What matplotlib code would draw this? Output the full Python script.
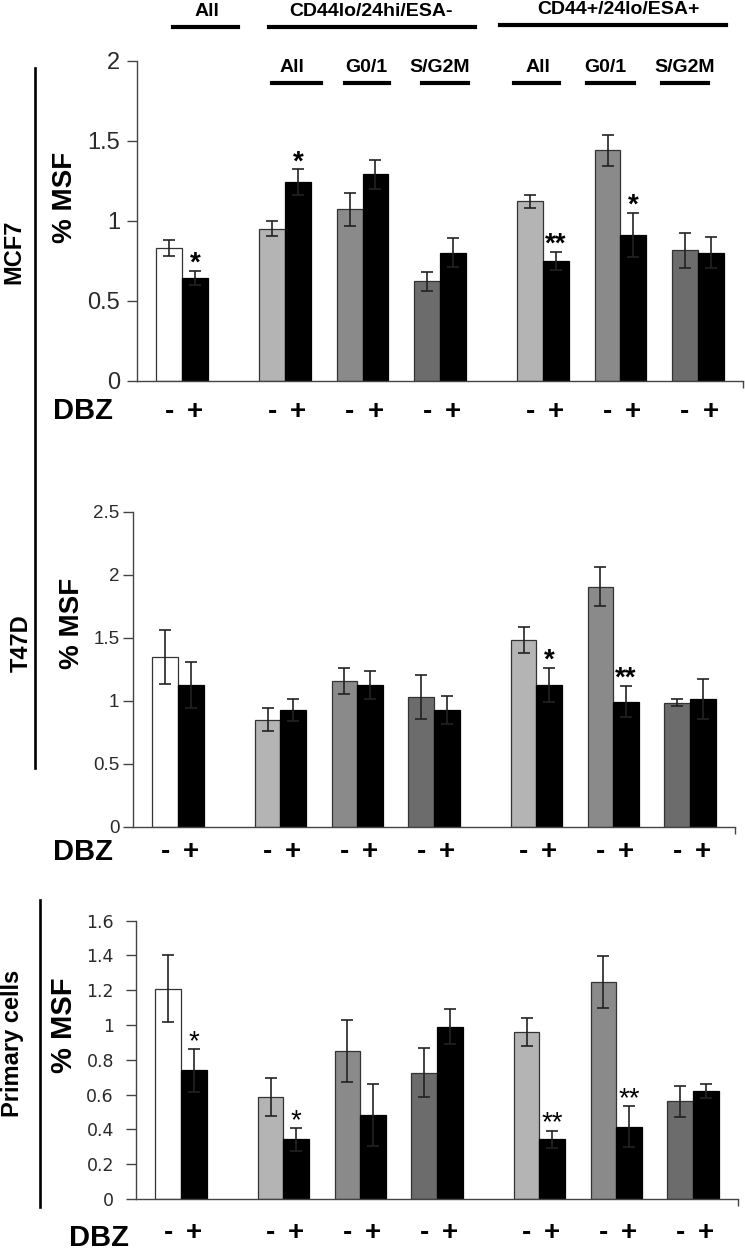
import matplotlib
matplotlib.use("Agg")
import matplotlib.pyplot as plt
from matplotlib.lines import Line2D
import matplotlib.transforms as mtransforms

plt.rcParams['font.family'] = ['Liberation Sans', 'DejaVu Sans']

# ---------------- data ----------------
subsets = ["All",
           "CD44lo/24hi/ESA- All", "CD44lo/24hi/ESA- G0/1", "CD44lo/24hi/ESA- S/G2M",
           "CD44+/24lo/ESA+ All", "CD44+/24lo/ESA+ G0/1", "CD44+/24lo/ESA+ S/G2M"]
dbz_labels = ["-", "+"]

mcf7_minus = [0.83, 0.95, 1.07, 0.62, 1.12, 1.44, 0.815]
mcf7_minus_err = [0.05, 0.045, 0.105, 0.058, 0.042, 0.098, 0.11]
mcf7_plus = [0.64, 1.24, 1.29, 0.80, 0.75, 0.91, 0.80]
mcf7_plus_err = [0.045, 0.08, 0.09, 0.09, 0.056, 0.14, 0.095]
mcf7_stars = ['*', '*', '', '', '**', '*', '']

t47d_minus = [1.35, 0.85, 1.16, 1.03, 1.48, 1.905, 0.985]
t47d_minus_err = [0.215, 0.09, 0.103, 0.172, 0.103, 0.156, 0.03]
t47d_plus = [1.125, 0.926, 1.125, 0.926, 1.125, 0.992, 1.011]
t47d_plus_err = [0.18, 0.087, 0.113, 0.11, 0.137, 0.125, 0.16]
t47d_stars = ['', '', '', '', '*', '**', '']

prim_minus = [1.21, 0.586, 0.851, 0.726, 0.96, 1.247, 0.561]
prim_minus_err = [0.19, 0.11, 0.18, 0.14, 0.082, 0.148, 0.09]
prim_plus = [0.741, 0.343, 0.483, 0.99, 0.343, 0.416, 0.621]
prim_plus_err = [0.123, 0.065, 0.176, 0.10, 0.05, 0.117, 0.04]
prim_stars = ['*', '*', '', '', '**', '**', '']

mcf7_yticks = [0, 0.5, 1, 1.5, 2]
t47d_yticks = [0, 0.5, 1, 1.5, 2, 2.5]
prim_yticks = [0, 0.2, 0.4, 0.6, 0.8, 1, 1.2, 1.4, 1.6]

# ---------------- layout ----------------
W, H = 745, 1250
fig = plt.figure(figsize=(W / 100, H / 100), dpi=100)

group_pos = [0, 4, 7, 10, 14, 17, 20]
light, mid, dark = '#b4b4b4', '#8a8a8a', '#6c6c6c'
minus_colors = ['white', light, mid, dark, light, mid, dark]


def fx(x):
    return x / W


def fy(y):
    return 1 - y / H


def rect(l, r, t, b):
    return [fx(l), fy(b), (r - l) / W, (b - t) / H]


def draw_panel(rect_px, ymax, yticks, minus, minus_err, plus, plus_err, stars,
               tick_font, tick_size, tick_pad, pm_y, star_weight='bold'):
    ax = fig.add_axes(rect(*rect_px))
    xm = [g - 0.5 for g in group_pos]
    xp = [g + 0.5 for g in group_pos]
    ax.bar(xm, minus, width=1, color=minus_colors, edgecolor='#333333', linewidth=0.9, zorder=2)
    ax.bar(xp, plus, width=1, color='black', edgecolor='black', linewidth=0.9, zorder=2)
    ax.errorbar(xm, minus, yerr=minus_err, fmt='none', ecolor='#222222',
                elinewidth=1.2, capsize=4.5, capthick=1.2, zorder=3)
    ax.errorbar(xp, plus, yerr=plus_err, fmt='none', ecolor='#222222',
                elinewidth=1.2, capsize=4.5, capthick=1.2, zorder=3)
    for x, v, e, s in zip(xp, plus, plus_err, stars):
        if s:
            ax.annotate(s, (x, v + e), xytext=(0, 0), textcoords='offset points',
                        ha='center', va='baseline', fontsize=20, fontweight=star_weight)
    ax.set_xlim(-1.75, 21.75)
    ax.set_ylim(0, ymax)
    ax.set_yticks(yticks)
    ax.set_yticklabels([('%g' % t) for t in yticks], fontsize=tick_size,
                       family=tick_font, color='#2a2a2a')
    ax.tick_params(axis='y', direction='out', length=7, width=1, color='#444444', pad=tick_pad)
    ax.set_xticks([21.75])
    ax.set_xticklabels([''])
    ax.tick_params(axis='x', direction='out', length=5, width=1, color='#444444')
    for sp in ['top', 'right']:
        ax.spines[sp].set_visible(False)
    for sp in ['left', 'bottom']:
        ax.spines[sp].set_color('#444444')
        ax.spines[sp].set_linewidth(1)
    ax.patch.set_visible(False)
    trans = mtransforms.blended_transform_factory(ax.transData, fig.transFigure)
    for x in xm:
        ax.text(x, fy(pm_y), dbz_labels[0], transform=trans, ha='center', va='center',
                fontsize=20, fontweight='bold')
    for x in xp:
        ax.text(x, fy(pm_y), dbz_labels[1], transform=trans, ha='center', va='center',
                fontsize=20, fontweight='bold')
    return ax


ax1 = draw_panel((136.9, 743, 60.7, 380.7), 2, mcf7_yticks, mcf7_minus, mcf7_minus_err,
                 mcf7_plus, mcf7_plus_err, mcf7_stars, 'Liberation Sans', 17, 5, 412)
ax2 = draw_panel((133.2, 734.8, 511.7, 826.7), 2.5, t47d_yticks, t47d_minus, t47d_minus_err,
                 t47d_plus, t47d_plus_err, t47d_stars, 'Liberation Sans', 13.5, 3, 852)
ax3 = draw_panel((136.2, 737.8, 920.7, 1199), 1.6, prim_yticks, prim_minus, prim_minus_err,
                 prim_plus, prim_plus_err, prim_stars, 'DejaVu Sans', 12.5, 9, 1233,
                 star_weight='normal')

# y labels
for x, y, fs in [(65, 197, 20), (72, 623, 20), (64, 1025, 21)]:
    fig.text(fx(x), fy(y), '% MSF', rotation=90, ha='center', va='center',
             fontsize=fs, fontweight='bold')

# cell line labels
for x, y, s, fs in [(14, 252, 'MCF7', 17), (21, 643, 'T47D', 17), (13, 1043, 'Primary cells', 17)]:
    fig.text(fx(x), fy(y), s, rotation=90, ha='center', va='center',
             fontsize=fs, fontweight='bold')

# DBZ labels
for x, y in [(83, 411), (83, 852), (99, 1238)]:
    fig.text(fx(x), fy(y), 'DBZ', ha='center', va='center', fontsize=21, fontweight='bold')

# vertical separator lines
fig.add_artist(Line2D([fx(34.5), fx(34.5)], [fy(68), fy(768)], transform=fig.transFigure,
                      color='black', lw=1.9))
fig.add_artist(Line2D([fx(40), fx(40)], [fy(900), fy(1207)], transform=fig.transFigure,
                      color='black', lw=1.9))

# header labels with underlines
headers = [("All", 207, 11, 173, 238, 27),
           ("CD44lo/24hi/ESA-", 371, 11, 269, 475, 27),
           ("CD44+/24lo/ESA+", 618, 9, 500, 726, 25)]
subheaders = [("All", 292, 67, 272, 321, 83),
              ("G0/1", 366, 67, 345, 389, 83),
              ("S/G2M", 440, 67, 422, 468, 83),
              ("All", 538, 67, 514, 559, 83),
              ("G0/1", 605, 67, 587, 634, 83),
              ("S/G2M", 685, 67, 662, 708, 83)]
for s, tx, ty, x0, x1, ly in headers + subheaders:
    fig.text(fx(tx), fy(ty), s, ha='center', va='center', fontsize=14, fontweight='bold')
    fig.add_artist(Line2D([fx(x0), fx(x1)], [fy(ly), fy(ly)], transform=fig.transFigure,
                          color='black', lw=3))

fig.savefig('out.png', dpi=100, facecolor='white')
